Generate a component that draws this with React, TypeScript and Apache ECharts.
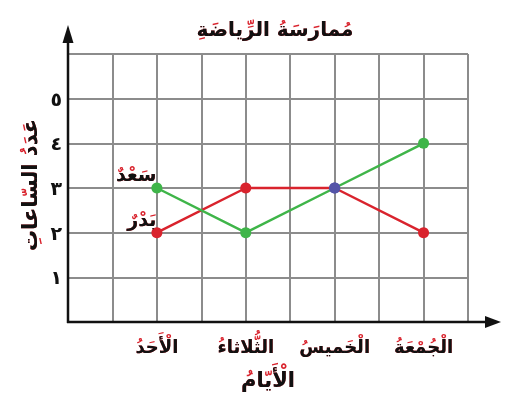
import React, { useEffect, useRef } from 'react';
import * as echarts from 'echarts';

const chartTitle = 'مُمارَسَةُ الرِّياضَةِ';
const yAxisName = 'عَدَدُ السّاعاتِ';
const xAxisName = 'الْأَيّامُ';
const days = ['الْأَحَدُ', 'الثُّلاثاءُ', 'الْخَميسُ', 'الْجُمْعَةُ'];
const dayPositions = [2, 4, 6, 8];
const seriesNames = ['سَعْدٌ', 'بَدْرٌ'];
const saad = [3, 2, 3, 4];
const badr = [2, 3, 3, 2];
const yTickLabels = ['١', '٢', '٣', '٤', '٥'];

const RED = '#d9232d';
const GREEN = '#3fb549';
const BLUE = '#5454a8';
const GRIDC = '#8c8c8c';
const FONT = "'DejaVu Sans', sans-serif";

const strip = (s: string) => s.replace(/[\u064B-\u0652\u0670]/g, '');

const dayLabel = (v: number) => {
  const i = dayPositions.indexOf(v);
  return i >= 0 ? days[i] : '';
};

function buildSeries(name: string, values: number[], color: string) {
  const labelBase = {
    show: true,
    position: 'left',
    distance: 0,
    offset: [5, -14],
    fontSize: 19,
    fontWeight: 'bold',
    fontFamily: FONT,
  };
  const data = values.map((v, i) => {
    const item: any = { value: [dayPositions[i], v] };
    if (i === 2) item.itemStyle = { color: BLUE };
    if (i === 0) {
      item.label = { ...labelBase, formatter: name, color: RED };
    }
    return item;
  });
  return {
    type: 'line',
    name,
    xAxisIndex: 0,
    yAxisIndex: 0,
    data,
    symbol: 'circle',
    symbolSize: 11,
    itemStyle: { color },
    lineStyle: { color, width: 2.5 },
    label: { show: false },
    emphasis: { disabled: true },
    markPoint: {
      silent: true,
      symbol: 'circle',
      symbolSize: 11,
      itemStyle: { color: 'transparent' },
      data: [{ coord: [dayPositions[0], values[0]] }],
      label: { ...labelBase, formatter: strip(name), color: '#111' },
    },
  };
}

export default function App() {
  const ref = useRef<HTMLDivElement>(null);
  useEffect(() => {
    if (!ref.current) return;
    const chart = echarts.init(ref.current, null, { renderer: 'svg' });
    const xBase = {
      type: 'value',
      min: 0,
      max: 9,
      interval: 1,
      position: 'bottom',
      axisLine: { show: false },
      axisTick: { show: false },
      nameLocation: 'middle',
      nameGap: 47,
    };
    const yBase = {
      type: 'value',
      min: 0,
      max: 6,
      interval: 1,
      position: 'left',
      axisLine: { show: false },
      axisTick: { show: false },
    };
    const xLabelBase = { show: true, margin: 15, fontSize: 18, fontWeight: 'bold', fontFamily: FONT };
    chart.setOption({
      animation: false,
      grid: { left: 68, top: 54, width: 400, height: 268, containLabel: false },
      graphic: [
        {
          type: 'text', x: 275, y: 29, z: 10,
          style: { text: chartTitle, fill: RED, font: `bold 20px ${FONT}`, align: 'center', verticalAlign: 'middle' },
        },
        {
          type: 'text', x: 275, y: 29, z: 11,
          style: { text: strip(chartTitle), fill: '#111', font: `bold 20px ${FONT}`, align: 'center', verticalAlign: 'middle' },
        },
        {
          type: 'text', x: 30, y: 185, rotation: Math.PI / 2, z: 10,
          style: { text: yAxisName, fill: RED, font: `bold 21px ${FONT}`, align: 'center', verticalAlign: 'middle' },
        },
        {
          type: 'text', x: 30, y: 185, rotation: Math.PI / 2, z: 11,
          style: { text: strip(yAxisName), fill: '#111', font: `bold 21px ${FONT}`, align: 'center', verticalAlign: 'middle' },
        },
        { type: 'line', z: 20, shape: { x1: 68, y1: 323, x2: 68, y2: 40 }, style: { stroke: '#111', lineWidth: 2.5 } },
        { type: 'polygon', z: 20, shape: { points: [[62.5, 43], [73.5, 43], [68, 25]] }, style: { fill: '#111' } },
        { type: 'line', z: 20, shape: { x1: 67, y1: 322, x2: 488, y2: 322 }, style: { stroke: '#111', lineWidth: 2.5 } },
        { type: 'polygon', z: 20, shape: { points: [[485, 316], [485, 328], [501, 322]] }, style: { fill: '#111' } },
      ],
      xAxis: [
        {
          ...xBase,
          name: xAxisName,
          nameTextStyle: { color: RED, fontSize: 21, fontWeight: 'bold', fontFamily: FONT },
          splitLine: { show: true, lineStyle: { color: GRIDC, width: 2 } },
          axisLabel: { ...xLabelBase, formatter: dayLabel, color: RED },
        },
        {
          ...xBase,
          name: strip(xAxisName),
          nameTextStyle: { color: '#111', fontSize: 21, fontWeight: 'bold', fontFamily: FONT },
          splitLine: { show: false },
          axisLabel: { ...xLabelBase, formatter: (v: number) => strip(dayLabel(v)), color: '#111' },
        },
      ],
      yAxis: [
        {
          ...yBase,
          splitLine: { show: true, lineStyle: { color: GRIDC, width: 2 } },
          axisLabel: {
            show: true,
            formatter: (v: number) => yTickLabels[v - 1] || '',
            margin: 6,
            color: '#111',
            fontSize: 19,
            fontWeight: 'bold',
            fontFamily: FONT,
          },
        },
      ],
      series: [
        buildSeries(seriesNames[1], badr, RED),
        buildSeries(seriesNames[0], saad, GREEN),
      ],
    });
    return () => chart.dispose();
  }, []);
  return <div ref={ref} style={{ position: 'fixed', left: 0, top: 0, width: 507, height: 408 }} />;
}
